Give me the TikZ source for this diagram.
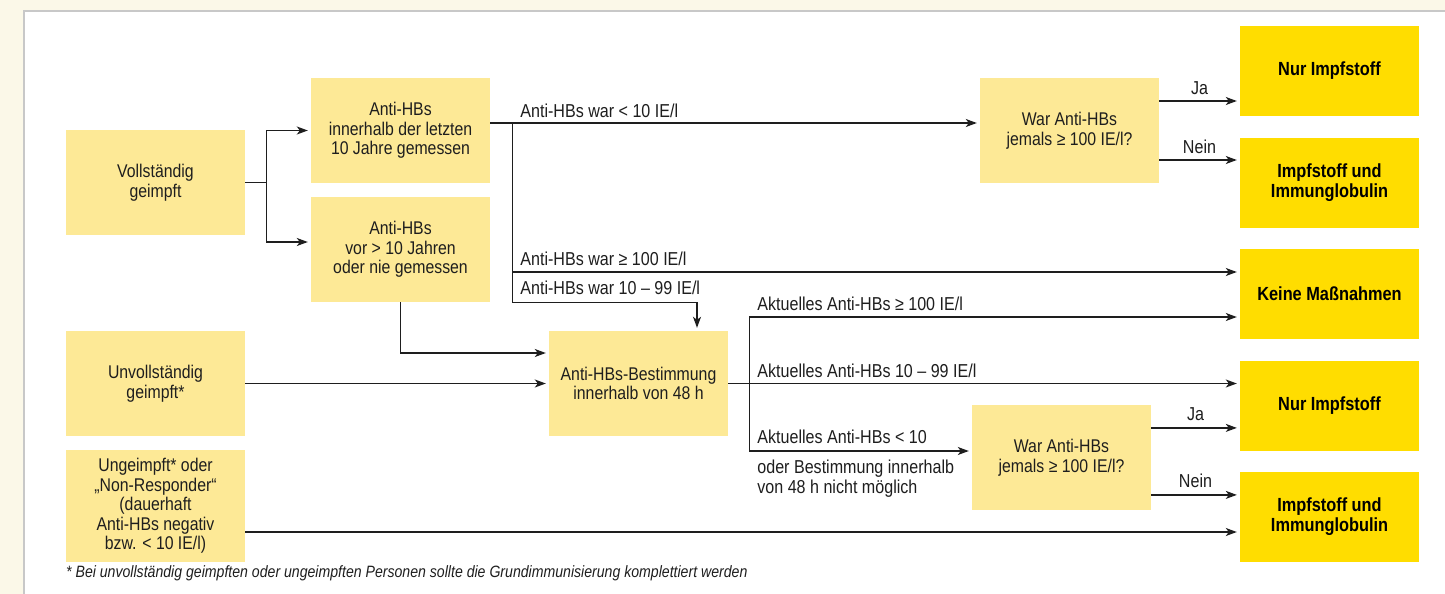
\documentclass[tikz,border=0pt]{standalone}
\usepackage{fontspec}
\setmainfont{Liberation Sans}[FakeStretch=0.86]
\usepackage{xcolor}
\usetikzlibrary{positioning, arrows.meta, calc}

\definecolor{boxyellow}{RGB}{253,233,150}
\definecolor{resyellow}{RGB}{255,221,0}
\definecolor{panelbg}{RGB}{251,248,232}
\definecolor{panelline}{RGB}{200,200,200}
\definecolor{inkgray}{RGB}{30,30,30}

\begin{document}
\begin{tikzpicture}[
        x=1pt, y=-1pt,
        qbox/.style={rectangle, fill=boxyellow, minimum width=179pt, minimum height=105pt, inner sep=2pt, align=center, font=\fontsize{18.4}{19.5}\selectfont, text=inkgray},
        resbox/.style={rectangle, fill=resyellow, minimum width=179pt, minimum height=90pt, inner sep=2pt, align=center, font=\fontsize{19}{20}\selectfont\bfseries, text=black},
        conn/.style={line width=1.3pt, draw=inkgray},
        arr/.style={conn, -{Stealth[length=11pt, width=8pt, inset=3pt]}, shorten >=3pt},
        lab/.style={font=\fontsize{18.7}{19.5}\selectfont, text=inkgray, inner sep=0pt, anchor=base west},
    ]
    \useasboundingbox (0,0) rectangle (1445,594);
    \clip (0,0) rectangle (1445,594);

    % === PANEL ===
    \fill[panelbg] (0,0) rectangle (1445,594);
    \fill[white] (24,11) rectangle (1445,594);
    \draw[panelline, line width=1.6pt] (24,594) -- (24,11) -- (1445,11);

    % === LEFT COLUMN ===
    \node[qbox] (voll) at (155.5,182.5) {Vollständig\\geimpft};
    \node[qbox] (unvoll) at (155.5,383.5) {Unvollständig\\geimpft*};
    \node[qbox, minimum height=112pt] (ungeimpft) at (155.5,506) {Ungeimpft* oder\\„Non-Responder“\\(dauerhaft\\Anti-HBs negativ\\bzw. < 10 IE/l)};

    % === ANTI-HBS CHECKS ===
    \node[qbox] (innerh) at (400.5,130.5) {Anti-HBs\\innerhalb der letzten\\10 Jahre gemessen};
    \node[qbox] (vor) at (400.5,249.5) {Anti-HBs\\vor > 10 Jahren\\oder nie gemessen};
    \node[qbox] (bestimm) at (638.5,383.5) {Anti-HBs-Bestimmung\\innerhalb von 48 h};
    \node[qbox] (war1) at (1069.5,130.5) {War Anti-HBs\\jemals ≥ 100 IE/l?};
    \node[qbox] (war2) at (1061.5,457.5) {War Anti-HBs\\jemals ≥ 100 IE/l?};

    % === RESULTS ===
    \node[resbox] (res1) at (1329.5,71) {Nur Impfstoff};
    \node[resbox] (res2) at (1329.5,183) {Impfstoff und\\Immunglobulin};
    \node[resbox] (keine) at (1329.5,294) {Keine Maßnahmen};
    \node[resbox] (res4) at (1329.5,406) {Nur Impfstoff};
    \node[resbox] (res5) at (1329.5,517) {Impfstoff und\\Immunglobulin};

    % Vollstaendig geimpft splits
    \draw[conn] (voll.east) -- ++(21,0) coordinate (s0);
    \draw[arr] (s0) |- (innerh.west);
    \draw[arr] (s0) |- ([yshift=7.5pt]vor.west);

    % Anti-HBs within 10 years
    \draw[conn] ([yshift=7.5pt]innerh.east) -- ++(22,0) coordinate (b1);
    \draw[arr] (b1) -- ([yshift=7.5pt]war1.west);
    \coordinate (k1) at ([yshift=22pt]keine.west);
    \coordinate (b2) at (b1 |- k1);
    \draw[arr] (b2) -- (k1);
    \coordinate (bn) at ([xshift=58.5pt]bestimm.north);
    \draw[arr] (b1) |- (bn |- vor.south) -- (bn);

    % into the Bestimmung
    \draw[arr] (vor.south) |- ([yshift=30.5pt]bestimm.west);
    \draw[arr] (unvoll.east) -- (bestimm.west);

    % Bestimmung outcomes
    \draw[arr] (bestimm.east) -- (bestimm.east -| res4.west);
    \coordinate (b3) at ([xshift=21pt]bestimm.east);
    \coordinate (k2) at ([yshift=-23pt]keine.west);
    \coordinate (w2) at ([yshift=6.5pt]war2.west);
    \coordinate (t3) at (b3 |- k2);
    \coordinate (d3) at (b3 |- w2);
    \draw[arr] (b3) |- (k2);
    \draw[arr] (b3) |- (w2);

    % Ungeimpft straight through
    \coordinate (u1) at ([yshift=-26pt]ungeimpft.east);
    \draw[arr] (u1) -- (u1 -| res5.west);

    % Ja / Nein
    \foreach \src/\dst/\dy/\txt in {war1/res1/29.5/Ja, war1/res2/-29.5/Nein, war2/res4/29.6/Ja, war2/res5/-37.4/Nein} {
        \coordinate (jn) at ([yshift=\dy pt]\src.east);
        \draw[arr] (jn) -- (jn -| \dst.west) node[lab, midway, anchor=base, yshift=7pt] (l\src\dst) {\txt};
    }

    % Labels
    \node[lab] (lw1) at ([xshift=8pt,yshift=6pt]b1) {Anti-HBs war < 10 IE/l};
    \node[lab] (lw2) at ([xshift=8pt,yshift=7pt]b2) {Anti-HBs war ≥ 100 IE/l};
    \node[lab] (lw3) at ([xshift=8pt,yshift=-22pt]b2) {Anti-HBs war 10 – 99 IE/l};
    \node[lab] (la1) at ([xshift=8pt,yshift=7pt]t3) {Aktuelles Anti-HBs ≥ 100 IE/l};
    \node[lab] (la2) at ([xshift=8pt,yshift=6pt]b3) {Aktuelles Anti-HBs 10 – 99 IE/l};
    \node[lab] (la3) at ([xshift=8pt,yshift=8pt]d3) {Aktuelles Anti-HBs < 10};
    \node[lab, anchor=north west, align=left] (la4) at ([xshift=8pt,yshift=-9pt]d3) {oder Bestimmung innerhalb\\von 48 h nicht möglich};

    % Footnote
    \node[lab, font=\fontsize{16.4}{18}\selectfont\itshape] (fn) at (66,577) {* Bei unvollständig geimpften oder ungeimpften Personen sollte die Grundimmunisierung komplettiert werden};

\end{tikzpicture}
\end{document}
